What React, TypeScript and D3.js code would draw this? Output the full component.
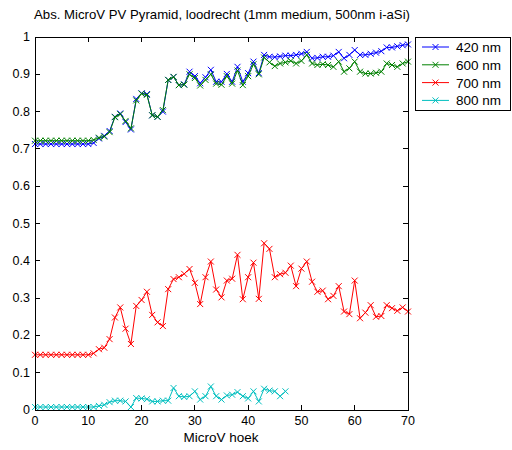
import React from "react";
import * as d3 from "d3";

const angles = [0,1,2,3,4,5,6,7,8,9,10,11,12,13,14,15,16,17,18,19,20,21,22,23,24,25,26,27,28,29,30,31,32,33,34,35,36,37,38,39,40,41,42,43,44,45,46,47,48,49,50,51,52,53,54,55,56,57,58,59,60,61,62,63,64,65,66,67,68,69,70];

const abs420 = [0.713,0.713,0.713,0.713,0.713,0.713,0.713,0.713,0.713,0.713,0.713,0.716,0.728,0.735,0.748,0.786,0.795,0.772,0.752,0.834,0.849,0.847,0.790,0.786,0.800,0.885,0.893,0.871,0.873,0.907,0.895,0.876,0.892,0.912,0.880,0.880,0.901,0.880,0.920,0.880,0.903,0.934,0.903,0.952,0.947,0.946,0.948,0.950,0.950,0.952,0.955,0.960,0.943,0.944,0.947,0.947,0.950,0.960,0.943,0.952,0.965,0.952,0.952,0.955,0.958,0.962,0.972,0.972,0.975,0.978,0.980];

const abs600 = [0.722,0.722,0.722,0.722,0.722,0.722,0.722,0.722,0.722,0.722,0.722,0.724,0.730,0.733,0.745,0.785,0.793,0.775,0.755,0.830,0.848,0.845,0.790,0.786,0.804,0.885,0.893,0.871,0.872,0.900,0.890,0.870,0.885,0.900,0.875,0.872,0.895,0.875,0.910,0.871,0.895,0.927,0.900,0.945,0.932,0.922,0.929,0.932,0.936,0.929,0.936,0.952,0.929,0.925,0.927,0.925,0.920,0.934,0.907,0.916,0.934,0.907,0.902,0.902,0.904,0.907,0.929,0.925,0.920,0.929,0.934];

const abs700 = [0.148,0.148,0.148,0.148,0.148,0.148,0.148,0.148,0.148,0.148,0.148,0.152,0.163,0.167,0.190,0.248,0.275,0.218,0.177,0.279,0.295,0.317,0.255,0.235,0.225,0.324,0.351,0.356,0.365,0.378,0.341,0.284,0.356,0.398,0.323,0.302,0.347,0.352,0.416,0.297,0.356,0.395,0.298,0.447,0.432,0.356,0.364,0.368,0.387,0.332,0.379,0.398,0.344,0.317,0.320,0.297,0.306,0.332,0.264,0.257,0.347,0.246,0.261,0.281,0.250,0.252,0.281,0.273,0.266,0.275,0.264];

const abs800 = [0.008,0.008,0.008,0.008,0.008,0.008,0.008,0.008,0.008,0.008,0.008,0.008,0.011,0.014,0.021,0.025,0.025,0.023,0.008,0.032,0.031,0.029,0.023,0.023,0.025,0.025,0.059,0.037,0.035,0.037,0.050,0.028,0.037,0.063,0.037,0.028,0.039,0.041,0.048,0.037,0.031,0.050,0.023,0.057,0.052,0.050,0.037,0.050];

const seriesNames = ["420 nm", "600 nm", "700 nm", "800 nm"];
const seriesColors = ["#0000ff", "#008000", "#ff0000", "#00bfbf"];
const seriesValues = [abs420, abs600, abs700, abs800];

const xTicks = [0, 10, 20, 30, 40, 50, 60, 70];
const yTicks = [0, 0.1, 0.2, 0.3, 0.4, 0.5, 0.6, 0.7, 0.8, 0.9, 1];

const titleText = "Abs. MicroV PV Pyramid, loodrecht (1mm medium, 500nm i-aSi)";
const xLabel = "MicroV hoek";

export default function App() {
  const W = 512, H = 450;
  const left = 35, right = 408, top = 37, bottom = 410;
  const x = d3.scaleLinear().domain([0, 70]).range([left, right]);
  const y = d3.scaleLinear().domain([0, 1]).range([bottom, top]);
  const line = d3.line<[number, number]>().x(d => x(d[0])).y(d => y(d[1]));
  const font = "'Liberation Sans', Arial, sans-serif";
  const ms = 3;
  const tk = 5;

  const marker = (cx: number, cy: number, color: string, key: string) => (
    <path key={key} d={`M${cx - ms},${cy - ms}L${cx + ms},${cy + ms}M${cx - ms},${cy + ms}L${cx + ms},${cy - ms}`} stroke={color} strokeWidth={1} fill="none" />
  );

  const legX = 415, legY = 37, legW = 95, legH = 73;

  return (
    <svg width={W} height={H} style={{ position: "absolute", left: 0, top: 0, background: "#fff" }} fontFamily={font}>
      <rect x={0} y={0} width={W} height={H} fill="#fff" />
      <text x={222} y={19} textAnchor="middle" fontSize={13} fill="#000" textLength={376} lengthAdjust="spacingAndGlyphs">{titleText}</text>
      {seriesValues.map((vals, si) => {
        const pts: [number, number][] = vals.map((v, i) => [angles[i], v]);
        return (
          <g key={si}>
            <path d={line(pts) || ""} fill="none" stroke={seriesColors[si]} strokeWidth={1} />
            {pts.map((p, i) => marker(x(p[0]), y(p[1]), seriesColors[si], `${si}-${i}`))}
          </g>
        );
      })}
      <rect x={left} y={top} width={right - left} height={bottom - top} fill="none" stroke="#000" strokeWidth={1} shapeRendering="crispEdges" />
      {xTicks.map(t => (
        <g key={"x" + t}>
          <line x1={x(t)} x2={x(t)} y1={bottom} y2={bottom - tk} stroke="#000" shapeRendering="crispEdges" />
          <line x1={x(t)} x2={x(t)} y1={top} y2={top + tk} stroke="#000" shapeRendering="crispEdges" />
          <text x={x(t)} y={bottom + 15} textAnchor="middle" fontSize={12.5}>{t}</text>
        </g>
      ))}
      {yTicks.map(t => (
        <g key={"y" + t}>
          <line x1={left} x2={left + tk} y1={y(t)} y2={y(t)} stroke="#000" shapeRendering="crispEdges" />
          <line x1={right} x2={right - tk} y1={y(t)} y2={y(t)} stroke="#000" shapeRendering="crispEdges" />
          <text x={left - 5} y={y(t) + 4} textAnchor="end" fontSize={12.5}>{String(t)}</text>
        </g>
      ))}
      <text x={221} y={442} textAnchor="middle" fontSize={13.5}>{xLabel}</text>
      <rect x={legX} y={legY} width={legW} height={legH} fill="#fff" stroke="#000" strokeWidth={1} shapeRendering="crispEdges" />
      {seriesNames.map((n, i) => {
        const ly = legY + 10 + i * 17.8;
        return (
          <g key={n}>
            <line x1={legX + 7} x2={legX + 34} y1={ly} y2={ly} stroke={seriesColors[i]} strokeWidth={1} />
            {marker(legX + 20.5, ly, seriesColors[i], "lm" + i)}
            <text x={legX + 41} y={ly + 5} fontSize={13.5}>{n}</text>
          </g>
        );
      })}
    </svg>
  );
}
